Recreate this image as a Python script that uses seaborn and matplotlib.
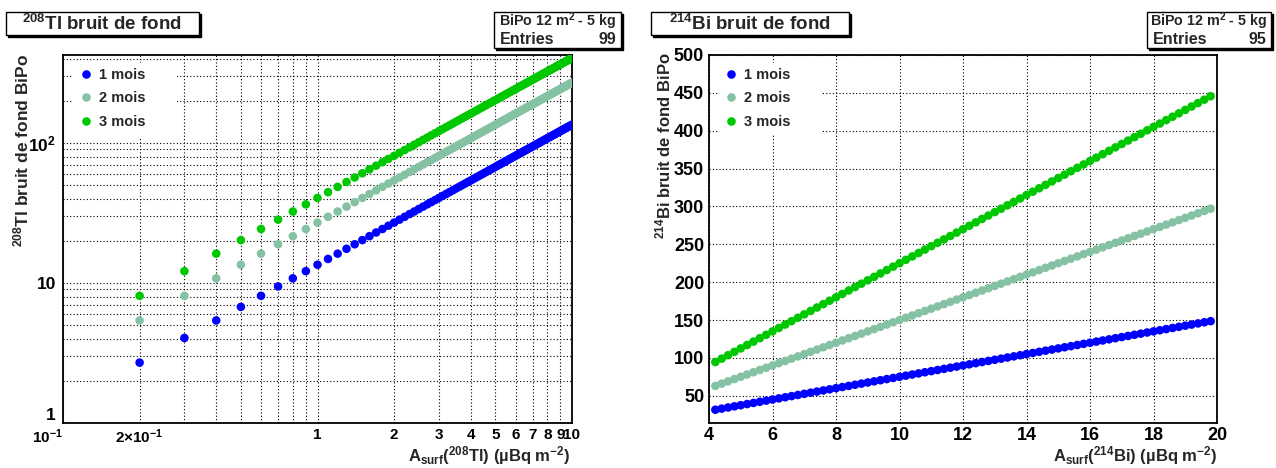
import matplotlib
matplotlib.use("Agg")
import matplotlib.pyplot as plt
import matplotlib.ticker as mticker
from matplotlib.patches import Rectangle
import seaborn as sns
import pandas as pd

# --- 208Tl : activite de surface (uBq/m2) et bruit de fond BiPo ---
tl_x = [0.2, 0.3, 0.4, 0.5, 0.6, 0.7, 0.8, 0.9, 1.0,
        1.1, 1.2, 1.3, 1.4, 1.5, 1.6, 1.7, 1.8, 1.9, 2.0,
        2.1, 2.2, 2.3, 2.4, 2.5, 2.6, 2.7, 2.8, 2.9, 3.0,
        3.1, 3.2, 3.3, 3.4, 3.5, 3.6, 3.7, 3.8, 3.9, 4.0,
        4.1, 4.2, 4.3, 4.4, 4.5, 4.6, 4.7, 4.8, 4.9, 5.0,
        5.1, 5.2, 5.3, 5.4, 5.5, 5.6, 5.7, 5.8, 5.9, 6.0,
        6.1, 6.2, 6.3, 6.4, 6.5, 6.6, 6.7, 6.8, 6.9, 7.0,
        7.1, 7.2, 7.3, 7.4, 7.5, 7.6, 7.7, 7.8, 7.9, 8.0,
        8.1, 8.2, 8.3, 8.4, 8.5, 8.6, 8.7, 8.8, 8.9, 9.0,
        9.1, 9.2, 9.3, 9.4, 9.5, 9.6, 9.7, 9.8, 9.9, 10.0]
tl_1mois = [2.7, 4.05, 5.4, 6.75, 8.1, 9.45, 10.8, 12.15, 13.5,
            14.85, 16.2, 17.55, 18.9, 20.25, 21.6, 22.95, 24.3, 25.65, 27.0,
            28.35, 29.7, 31.05, 32.4, 33.75, 35.1, 36.45, 37.8, 39.15, 40.5,
            41.85, 43.2, 44.55, 45.9, 47.25, 48.6, 49.95, 51.3, 52.65, 54.0,
            55.35, 56.7, 58.05, 59.4, 60.75, 62.1, 63.45, 64.8, 66.15, 67.5,
            68.85, 70.2, 71.55, 72.9, 74.25, 75.6, 76.95, 78.3, 79.65, 81.0,
            82.35, 83.7, 85.05, 86.4, 87.75, 89.1, 90.45, 91.8, 93.15, 94.5,
            95.85, 97.2, 98.55, 99.9, 101.25, 102.6, 103.95, 105.3, 106.65, 108.0,
            109.35, 110.7, 112.05, 113.4, 114.75, 116.1, 117.45, 118.8, 120.15, 121.5,
            122.85, 124.2, 125.55, 126.9, 128.25, 129.6, 130.95, 132.3, 133.65, 135.0]
tl_2mois = [5.4, 8.1, 10.8, 13.5, 16.2, 18.9, 21.6, 24.3, 27.0,
            29.7, 32.4, 35.1, 37.8, 40.5, 43.2, 45.9, 48.6, 51.3, 54.0,
            56.7, 59.4, 62.1, 64.8, 67.5, 70.2, 72.9, 75.6, 78.3, 81.0,
            83.7, 86.4, 89.1, 91.8, 94.5, 97.2, 99.9, 102.6, 105.3, 108.0,
            110.7, 113.4, 116.1, 118.8, 121.5, 124.2, 126.9, 129.6, 132.3, 135.0,
            137.7, 140.4, 143.1, 145.8, 148.5, 151.2, 153.9, 156.6, 159.3, 162.0,
            164.7, 167.4, 170.1, 172.8, 175.5, 178.2, 180.9, 183.6, 186.3, 189.0,
            191.7, 194.4, 197.1, 199.8, 202.5, 205.2, 207.9, 210.6, 213.3, 216.0,
            218.7, 221.4, 224.1, 226.8, 229.5, 232.2, 234.9, 237.6, 240.3, 243.0,
            245.7, 248.4, 251.1, 253.8, 256.5, 259.2, 261.9, 264.6, 267.3, 270.0]
tl_3mois = [8.1, 12.15, 16.2, 20.25, 24.3, 28.35, 32.4, 36.45, 40.5,
            44.55, 48.6, 52.65, 56.7, 60.75, 64.8, 68.85, 72.9, 76.95, 81.0,
            85.05, 89.1, 93.15, 97.2, 101.25, 105.3, 109.35, 113.4, 117.45, 121.5,
            125.55, 129.6, 133.65, 137.7, 141.75, 145.8, 149.85, 153.9, 157.95, 162.0,
            166.05, 170.1, 174.15, 178.2, 182.25, 186.3, 190.35, 194.4, 198.45, 202.5,
            206.55, 210.6, 214.65, 218.7, 222.75, 226.8, 230.85, 234.9, 238.95, 243.0,
            247.05, 251.1, 255.15, 259.2, 263.25, 267.3, 271.35, 275.4, 279.45, 283.5,
            287.55, 291.6, 295.65, 299.7, 303.75, 307.8, 311.85, 315.9, 319.95, 324.0,
            328.05, 332.1, 336.15, 340.2, 344.25, 348.3, 352.35, 356.4, 360.45, 364.5,
            368.55, 372.6, 376.65, 380.7, 384.75, 388.8, 392.85, 396.9, 400.95, 405.0]

# --- 214Bi ---
bi_x = [4.2, 4.4, 4.6, 4.8, 5.0, 5.2, 5.4, 5.6, 5.8, 6.0,
        6.2, 6.4, 6.6, 6.8, 7.0, 7.2, 7.4, 7.6, 7.8, 8.0,
        8.2, 8.4, 8.6, 8.8, 9.0, 9.2, 9.4, 9.6, 9.8, 10.0,
        10.2, 10.4, 10.6, 10.8, 11.0, 11.2, 11.4, 11.6, 11.8, 12.0,
        12.2, 12.4, 12.6, 12.8, 13.0, 13.2, 13.4, 13.6, 13.8, 14.0,
        14.2, 14.4, 14.6, 14.8, 15.0, 15.2, 15.4, 15.6, 15.8, 16.0,
        16.2, 16.4, 16.6, 16.8, 17.0, 17.2, 17.4, 17.6, 17.8, 18.0,
        18.2, 18.4, 18.6, 18.8, 19.0, 19.2, 19.4, 19.6, 19.8]
bi_1mois = [31.5, 33, 34.5, 36, 37.5, 39, 40.5, 42, 43.5, 45,
            46.5, 48, 49.5, 51, 52.5, 54, 55.5, 57, 58.5, 60,
            61.5, 63, 64.5, 66, 67.5, 69, 70.5, 72, 73.5, 75,
            76.5, 78, 79.5, 81, 82.5, 84, 85.5, 87, 88.5, 90,
            91.5, 93, 94.5, 96, 97.5, 99, 100.5, 102, 103.5, 105,
            106.5, 108, 109.5, 111, 112.5, 114, 115.5, 117, 118.5, 120,
            121.5, 123, 124.5, 126, 127.5, 129, 130.5, 132, 133.5, 135,
            136.5, 138, 139.5, 141, 142.5, 144, 145.5, 147, 148.5]
bi_2mois = [63, 66, 69, 72, 75, 78, 81, 84, 87, 90,
            93, 96, 99, 102, 105, 108, 111, 114, 117, 120,
            123, 126, 129, 132, 135, 138, 141, 144, 147, 150,
            153, 156, 159, 162, 165, 168, 171, 174, 177, 180,
            183, 186, 189, 192, 195, 198, 201, 204, 207, 210,
            213, 216, 219, 222, 225, 228, 231, 234, 237, 240,
            243, 246, 249, 252, 255, 258, 261, 264, 267, 270,
            273, 276, 279, 282, 285, 288, 291, 294, 297]
bi_3mois = [94.5, 99, 103.5, 108, 112.5, 117, 121.5, 126, 130.5, 135,
            139.5, 144, 148.5, 153, 157.5, 162, 166.5, 171, 175.5, 180,
            184.5, 189, 193.5, 198, 202.5, 207, 211.5, 216, 220.5, 225,
            229.5, 234, 238.5, 243, 247.5, 252, 256.5, 261, 265.5, 270,
            274.5, 279, 283.5, 288, 292.5, 297, 301.5, 306, 310.5, 315,
            319.5, 324, 328.5, 333, 337.5, 342, 346.5, 351, 355.5, 360,
            364.5, 369, 373.5, 378, 382.5, 387, 391.5, 396, 400.5, 405,
            409.5, 414, 418.5, 423, 427.5, 432, 436.5, 441, 445.5]

mois = ['1 mois', '2 mois', '3 mois']
couleurs = {'1 mois': '#0000ff', '2 mois': '#85c2a3', '3 mois': '#00c800'}


def long_df(x, series):
    return pd.DataFrame({
        'x': x * len(series),
        'y': [v for s in series for v in s],
        'mois': [m for m, s in zip(mois, series) for _ in s],
    })


df_tl = long_df(tl_x, [tl_1mois, tl_2mois, tl_3mois])
df_bi = long_df(bi_x, [bi_1mois, bi_2mois, bi_3mois])

sns.set_style("white")
plt.rcParams['font.family'] = ['Liberation Sans', 'DejaVu Sans']
plt.rcParams['font.weight'] = 'bold'
plt.rcParams['mathtext.fontset'] = 'custom'
plt.rcParams['mathtext.rm'] = 'Liberation Sans:bold'
plt.rcParams['mathtext.it'] = 'Liberation Sans:bold'
plt.rcParams['mathtext.bf'] = 'Liberation Sans:bold'

W, H = 1276, 468
fig = plt.figure(figsize=(W / 100, H / 100), dpi=100)


def px(x0, y0, x1, y1):
    # pixels (origine en haut a gauche) -> fraction de figure
    return [x0 / W, 1 - y1 / H, (x1 - x0) / W, (y1 - y0) / H]


ax1 = fig.add_axes(px(63, 55, 572, 423))
ax2 = fig.add_axes(px(709, 55, 1217, 423))

grid_kw = dict(color='black', linestyle=(0, (1, 2)), linewidth=0.8)

for ax, df in [(ax1, df_tl), (ax2, df_bi)]:
    sns.scatterplot(data=df, x='x', y='y', hue='mois', palette=couleurs,
                    s=38, linewidth=0, edgecolor='none', ax=ax, zorder=3)
    ax.set_axisbelow(True)
    ax.set_xlabel('')
    ax.set_ylabel('')
    for sp in ax.spines.values():
        sp.set_linewidth(1.3)
        sp.set_color('black')
    ax.tick_params(which='both', direction='in', top=False, right=False,
                   labelsize=11.5, colors='black', width=1)

# --- axes log 208Tl ---
ax1.set_xscale('log')
ax1.set_yscale('log')
ax1.set_xlim(0.1, 10)
ax1.set_ylim(1, 425)
ax1.xaxis.set_major_locator(mticker.FixedLocator([0.1, 1, 10]))
ax1.xaxis.set_major_formatter(mticker.FixedFormatter(['10$^{-1}$', '1', '10']))
ax1.xaxis.set_minor_locator(mticker.LogLocator(base=10, subs=[2, 3, 4, 5, 6, 7, 8, 9]))


def minor_x(v, pos):
    if abs(v - 0.2) < 1e-6:
        return '2×10$^{-1}$'
    if 1.5 < v < 9.5:
        return '%d' % round(v)
    return ''


ax1.xaxis.set_minor_formatter(mticker.FuncFormatter(minor_x))
ax1.yaxis.set_major_locator(mticker.FixedLocator([1, 10, 100]))
ax1.yaxis.set_major_formatter(mticker.FixedFormatter(['1', '10', '10$^{2}$']))
ax1.yaxis.set_minor_locator(mticker.LogLocator(base=10, subs=[2, 3, 4, 5, 6, 7, 8, 9]))
ax1.yaxis.set_minor_formatter(mticker.NullFormatter())
ax1.tick_params(axis='x', which='major', length=8, pad=3.5, labelsize=11)
ax1.tick_params(axis='x', which='minor', length=5, pad=3.5, labelsize=11)
ax1.tick_params(axis='y', which='major', length=11, labelsize=12.5, pad=5)
ax1.tick_params(axis='y', which='minor', length=6)
ax1.grid(True, which='both', **grid_kw)
ax1.xaxis.get_major_ticks()[0].label1.set_horizontalalignment('right')
ax1.yaxis.get_major_ticks()[0].label1.set_verticalalignment('bottom')

# --- axes lineaires 214Bi ---
ax2.set_xlim(4, 20)
ax2.set_ylim(14, 500)
ax2.xaxis.set_major_locator(mticker.MultipleLocator(2))
ax2.xaxis.set_minor_locator(mticker.MultipleLocator(0.5))
ax2.yaxis.set_major_locator(mticker.MultipleLocator(50))
ax2.yaxis.set_minor_locator(mticker.MultipleLocator(10))
ax2.tick_params(which='major', length=9)
ax2.tick_params(which='minor', length=5)
ax2.tick_params(axis='both', labelsize=13)
ax2.tick_params(axis='x', pad=3)
ax2.grid(True, which='major', **grid_kw)

# --- legendes (cadre blanc qui masque la grille) ---
for ax, box, anchor in [(ax1, (73, 63, 177, 137), (79, 68)),
                        (ax2, (718, 63, 822, 135), (724, 68))]:
    x0a, y0a = ax.get_position().x0 * W, (1 - ax.get_position().y1) * H
    wa, ha = ax.get_position().width * W, ax.get_position().height * H
    ax.add_patch(Rectangle(((box[0] - x0a) / wa, 1 - (box[3] - y0a) / ha),
                           (box[2] - box[0]) / wa, (box[3] - box[1]) / ha,
                           transform=ax.transAxes, facecolor='white',
                           edgecolor='none', zorder=1))
    handles, labels = ax.get_legend_handles_labels()
    ax.legend(handles, labels, loc='upper left',
              bbox_to_anchor=((anchor[0] - x0a) / wa, 1 - (anchor[1] - y0a) / ha),
              frameon=False, fontsize=10.5, handlelength=1.0, handletextpad=0.4,
              labelspacing=0.65, borderaxespad=0, borderpad=0, title=None)

# --- titres des axes ---
fig.text(21 / W, 1 - 54 / H, '$^{208}$Tl bruit de fond BiPo', rotation=90,
         ha='center', va='top', fontsize=12.5)
fig.text(663 / W, 1 - 52 / H, '$^{214}$Bi bruit de fond BiPo', rotation=90,
         ha='center', va='top', fontsize=12)
fig.text(570 / W, 1 - 461 / H, 'A$_{\\mathrm{surf}}$($^{208}$Tl) (µBq m$^{-2}$)',
         ha='right', va='baseline', fontsize=12)
fig.text(1217 / W, 1 - 461 / H, 'A$_{\\mathrm{surf}}$($^{214}$Bi) (µBq m$^{-2}$)',
         ha='right', va='baseline', fontsize=12)


# --- boites facon ROOT (titre + stats) ---
def boite(x0, y0, x1, y1):
    fig.patches.append(Rectangle(px(x0 + 2, y0 + 2, x1 + 2, y1 + 2)[:2],
                                 (x1 - x0) / W, (y1 - y0) / H,
                                 transform=fig.transFigure, facecolor='black',
                                 edgecolor='black', zorder=1))
    fig.patches.append(Rectangle(px(x0, y0, x1, y1)[:2],
                                 (x1 - x0) / W, (y1 - y0) / H,
                                 transform=fig.transFigure, facecolor='white',
                                 edgecolor='black', linewidth=1, zorder=2))


boite(6, 12, 199, 35)
fig.text(102 / W, 1 - 24 / H, '$^{208}$Tl bruit de fond', ha='center',
         va='center', fontsize=13.5)
boite(651, 12, 849, 35)
fig.text(750 / W, 1 - 24 / H, '$^{214}$Bi bruit de fond', ha='center',
         va='center', fontsize=13.5)

for (x0, x1, n) in [(494, 621, 99), (1147, 1271, 95)]:
    boite(x0, 12, x1, 48)
    fig.add_artist(plt.Line2D([x0 / W, x1 / W], [1 - 31 / H, 1 - 31 / H],
                              transform=fig.transFigure, color='black', lw=1))
    fig.text((x0 + x1) / 2 / W, 1 - 21 / H, 'BiPo 12 m$^{2}$ - 5 kg',
             ha='center', va='center', fontsize=10.3)
    fig.text((x0 + 6) / W, 1 - 40 / H, 'Entries', ha='left', va='center',
             fontsize=11.5)
    fig.text((x1 - 5) / W, 1 - 40 / H, str(n), ha='right', va='center',
             fontsize=11.5)

fig.savefig('out.png', dpi=100, facecolor='white')
